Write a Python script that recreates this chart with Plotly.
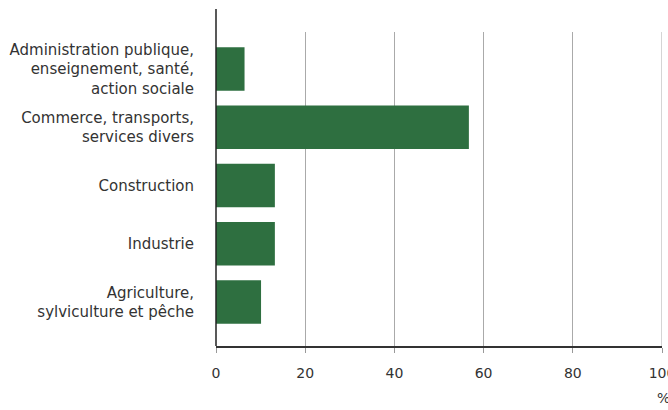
import plotly.graph_objects as go

# data (percent), listed bottom to top
categories = [
    "Agriculture,<br>sylviculture et pêche",
    "Industrie",
    "Construction",
    "Commerce, transports,<br>services divers",
    "Administration publique,<br>enseignement, santé,<br>action sociale",
]
values = [10.1, 13.2, 13.2, 56.7, 6.4]
x_ticks = [0, 20, 40, 60, 80, 100]

font = "DejaVu Sans, Verdana, sans-serif"

fig = go.Figure(go.Bar(
    x=values, y=list(range(len(categories))),
    orientation="h",
    width=0.75,
    marker=dict(color="#2e6f40", line=dict(width=0)),
    hoverinfo="skip",
))

# y axis line runs a bit above the plot area in the reference
fig.add_shape(type="line", xref="paper", yref="paper",
              x0=0, x1=0, y0=0, y1=1.073,
              line=dict(color="#222", width=1.5))

# gridline at the right end of the range (plotly drops the edge one)
fig.add_shape(type="line", xref="x", yref="paper",
              x0=x_ticks[-1], x1=x_ticks[-1], y0=0, y1=1,
              line=dict(color="#aaa", width=1), layer="below")

# "%" unit label, cut by the right edge like in the reference
fig.add_annotation(text="%", xref="paper", yref="paper",
                   x=0.985, y=-0.166, xanchor="left", yanchor="middle",
                   showarrow=False, font=dict(family=font, size=14, color="#333"))

fig.update_layout(
    width=668, height=410,
    margin=dict(l=216, r=6, t=32, b=64),
    plot_bgcolor="white", paper_bgcolor="white",
    showlegend=False,
    font=dict(family=font, size=14, color="#333"),
    xaxis=dict(
        range=[0, 100], tickvals=x_ticks,
        showgrid=True, gridcolor="#aaa", gridwidth=1,
        zeroline=False,
        showline=True, linecolor="#333", linewidth=1.5,
        ticks="outside", ticklen=5, tickcolor="#999",
        ticklabelstandoff=8, ticklabeloverflow="allow",
        tickfont=dict(size=14),
        automargin=False,
        fixedrange=True,
    ),
    yaxis=dict(
        range=[-0.755, 4.635],
        tickvals=list(range(len(categories))), ticktext=categories,
        showgrid=False, zeroline=False, showline=False,
        ticks="", ticklabelstandoff=21,
        tickfont=dict(size=15),
        automargin=False,
        fixedrange=True,
    ),
)

# drop the default body margin so the figure sits at the page corner
fig.write_html("out.html", config=dict(displayModeBar=False),
               post_script="document.body.style.margin='0';")
